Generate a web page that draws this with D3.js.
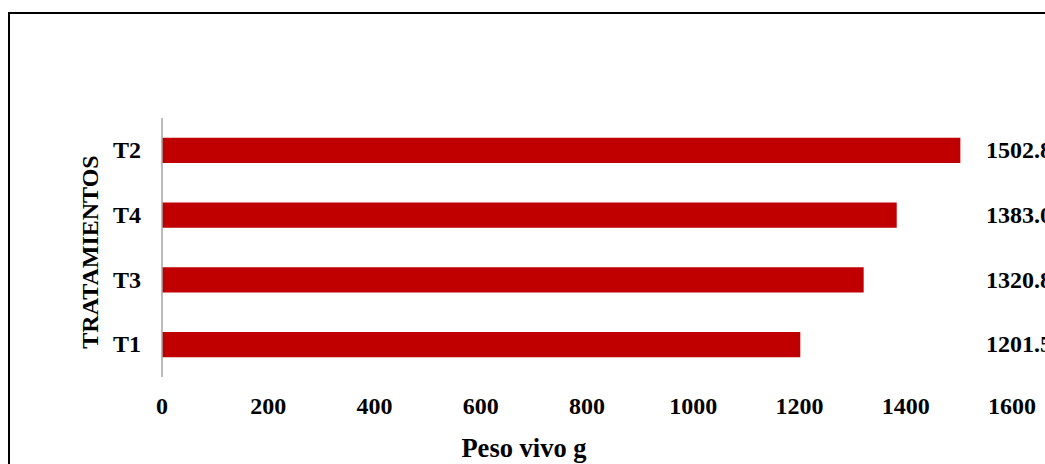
<!DOCTYPE html>
<html>
<head>
<meta charset="utf-8">
<script src="https://cdn.jsdelivr.net/npm/d3@7"></script>
<style>
  html, body { margin: 0; padding: 0; background: #fff; overflow: hidden; }
  svg { display: block; font-family: "Liberation Serif", "Times New Roman", serif; }
</style>
</head>
<body>
<svg id="chart" width="1045" height="464"></svg>
<script>
// Live weight per treatment (g), listed top to bottom
const categories = ["T2", "T4", "T3", "T1"];
const values = [1502.8, 1383.0, 1320.8, 1201.5];
const valueLabels = ["1502.8", "1383.0", "1320.8", "1201.5"];
const xTicks = [0, 200, 400, 600, 800, 1000, 1200, 1400, 1600];

const svg = d3.select("#chart");

// Outer frame
svg.append("rect")
  .attr("x", 9).attr("y", 13)
  .attr("width", 1100).attr("height", 500)
  .attr("fill", "none").attr("stroke", "#000").attr("stroke-width", 2);

const x = d3.scaleLinear().domain([0, 1600]).range([162, 1012]);
const y = d3.scaleBand().domain(categories).range([118, 377]).paddingInner(0.61).paddingOuter(0.305);

// Bars
svg.append("g").selectAll("rect")
  .data(categories)
  .join("rect")
  .attr("x", x(0))
  .attr("y", d => y(d))
  .attr("width", (d, i) => x(values[i]) - x(0))
  .attr("height", y.bandwidth())
  .attr("fill", "#c00000");

// Vertical category axis line
svg.append("line")
  .attr("x1", x(0)).attr("x2", x(0))
  .attr("y1", 118).attr("y2", 377)
  .attr("stroke", "#a6a6a6").attr("stroke-width", 1.5);

// Category labels
svg.append("g").selectAll("text")
  .data(categories)
  .join("text")
  .attr("x", 141)
  .attr("y", d => y(d) + y.bandwidth() / 2)
  .attr("dy", "0.32em")
  .attr("text-anchor", "end")
  .attr("font-size", 24).attr("font-weight", "bold").attr("fill", "#000")
  .text(d => d);

// X tick labels
svg.append("g").selectAll("text")
  .data(xTicks)
  .join("text")
  .attr("x", d => x(d))
  .attr("y", 414)
  .attr("text-anchor", "middle")
  .attr("font-size", 24).attr("font-weight", "bold").attr("fill", "#000")
  .text(d => d);

// Value labels, aligned in a column right of the bars
svg.append("g").selectAll("text")
  .data(categories)
  .join("text")
  .attr("x", 986)
  .attr("y", d => y(d) + y.bandwidth() / 2)
  .attr("dy", "0.32em")
  .attr("font-size", 24).attr("font-weight", "bold").attr("fill", "#000")
  .text((d, i) => valueLabels[i]);

// Axis titles
svg.append("text")
  .attr("x", 524).attr("y", 457)
  .attr("text-anchor", "middle")
  .attr("font-size", 26.5).attr("font-weight", "bold").attr("fill", "#000")
  .text("Peso vivo g");

svg.append("text")
  .attr("transform", "translate(98,252) rotate(-90)")
  .attr("text-anchor", "middle")
  .attr("font-size", 24).attr("font-weight", "bold").attr("fill", "#000")
  .text("TRATAMIENTOS");
</script>
</body>
</html>
